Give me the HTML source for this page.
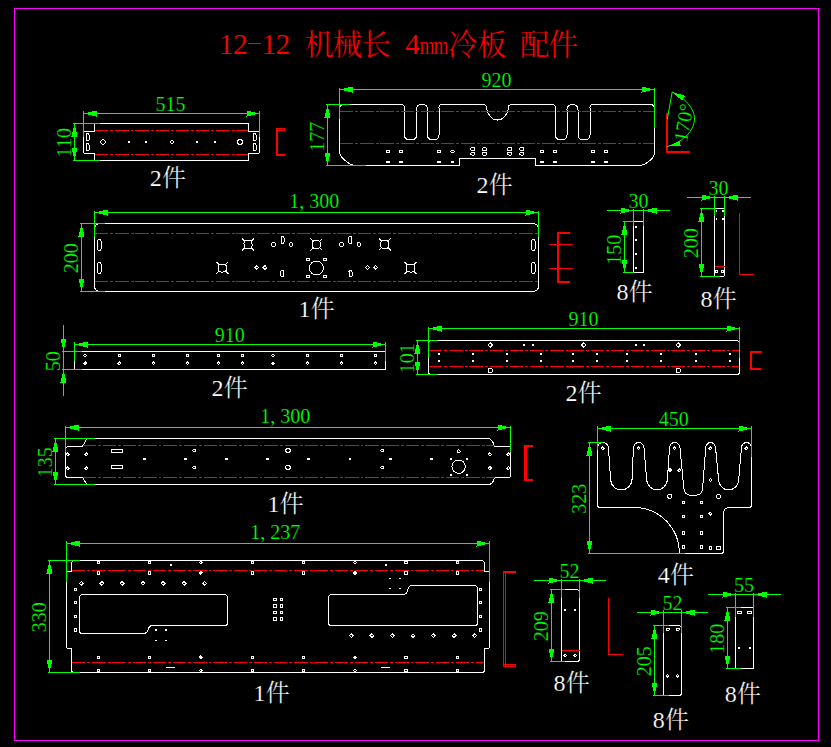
<!DOCTYPE html>
<html lang="zh"><head><meta charset="utf-8"><title>12-12 机械长 4mm冷板 配件</title>
<style>
html,body{margin:0;padding:0;background:#000;}
body{width:831px;height:747px;overflow:hidden;}
svg{display:block;font-family:"Liberation Serif","Noto Serif CJK SC",serif;}
svg text{stroke:#000;stroke-width:0.2px;}
svg line,svg path,svg rect,svg circle,svg polygon{shape-rendering:crispEdges;}
</style></head><body>
<svg width="831" height="747" viewBox="0 0 831 747" role="img" aria-label="12-12 机械长 4mm冷板 配件">
<desc>CAD sheet: 12-12 机械长 4mm冷板 配件. Parts: 515x110 2件, 920x177 2件 (170°), 1,300x200 1件, 30x150 8件, 30x200 8件, 910x50 2件, 910x101 2件, 1,300x135 1件, 450x323 4件, 1,237x330 1件, 52x209 8件, 52x205 8件, 55x180 8件</desc>
<rect x="0" y="0" width="831" height="747" fill="#000"/>
<rect x="14.5" y="8.5" width="804" height="732" stroke="#ff00ff" stroke-width="1" fill="none"/>
<text x="226.2" y="53.7" fill="#ff0000" font-size="29.6" text-anchor="middle">1</text>
<text x="240.4" y="53.7" fill="#ff0000" font-size="29.6" text-anchor="middle">2</text>
<text x="268.8" y="53.7" fill="#ff0000" font-size="29.6" text-anchor="middle">1</text>
<text x="283" y="53.7" fill="#ff0000" font-size="29.6" text-anchor="middle">2</text>
<line x1="247.7" y1="43.5" x2="261" y2="43.5" stroke="#ff0000" stroke-width="1"/>
<text x="304.43" y="54.93" fill="#ff0000" font-size="29.54">机</text>
<text x="332.83" y="54.93" fill="#ff0000" font-size="29.54">械</text>
<text x="361.23" y="54.93" fill="#ff0000" font-size="29.54">长</text>
<text x="412.5" y="53.7" fill="#ff0000" font-size="29.6" text-anchor="middle">4</text>
<text transform="translate(426.9 53.7) scale(0.74 1)" fill="#ff0000" font-size="26" text-anchor="middle">m</text>
<text transform="translate(441.1 53.7) scale(0.74 1)" fill="#ff0000" font-size="26" text-anchor="middle">m</text>
<text x="447.93" y="54.93" fill="#ff0000" font-size="29.54">冷</text>
<text x="477.03" y="54.93" fill="#ff0000" font-size="29.54">板</text>
<text x="520.03" y="54.93" fill="#ff0000" font-size="29.54">配</text>
<text x="548.43" y="54.93" fill="#ff0000" font-size="29.54">件</text>
<path d="M94.5 123.5H248.5V131.5H259.5V151.5Q259.5 153.5 257.5 153.5H248.5V160.5H94.5V153.5H85.5Q83.5 153.5 83.5 151.5V131.5H94.5Z" stroke="#ffffff" stroke-width="1" fill="none"/>
<line x1="95" y1="130.5" x2="248" y2="130.5" stroke="#ff0000" stroke-width="1" stroke-dasharray="13.4 2 2.9 1.9"/>
<line x1="95" y1="154.5" x2="248" y2="154.5" stroke="#ff0000" stroke-width="1" stroke-dasharray="13.4 2 2.9 1.9"/>
<rect x="86.5" y="133.5" width="2.5" height="7" rx="1" stroke="#ffffff" stroke-width="1" fill="none"/>
<rect x="86.5" y="143.5" width="2.5" height="7" rx="1" stroke="#ffffff" stroke-width="1" fill="none"/>
<rect x="253.5" y="133.5" width="2.5" height="7" rx="1" stroke="#ffffff" stroke-width="1" fill="none"/>
<rect x="253.5" y="143.5" width="2.5" height="7" rx="1" stroke="#ffffff" stroke-width="1" fill="none"/>
<circle cx="103" cy="142" r="2.2" stroke="#ffffff" stroke-width="1" fill="none"/>
<rect x="128" y="141" width="2" height="2" fill="#ffffff"/>
<rect x="145" y="141" width="2" height="2" fill="#ffffff"/>
<path d="M169.8 142L171.8 140L173.8 142L171.8 144Z" stroke="#ffffff" stroke-width="1" fill="none"/>
<rect x="196" y="141" width="2" height="2" fill="#ffffff"/>
<rect x="213.5" y="141" width="2" height="2" fill="#ffffff"/>
<circle cx="240" cy="142" r="2.4" stroke="#ffffff" stroke-width="1" fill="none"/>
<line x1="83.5" y1="113.5" x2="259.5" y2="113.5" stroke="#00ff00" stroke-width="1"/>
<polygon points="83.5,113.5 96.5,110.5 96.5,116.5" fill="#00ff00"/>
<polygon points="259.5,113.5 246.5,116.5 246.5,110.5" fill="#00ff00"/>
<line x1="83.5" y1="111" x2="83.5" y2="137" stroke="#00ff00" stroke-width="1"/>
<line x1="259.5" y1="111" x2="259.5" y2="137" stroke="#00ff00" stroke-width="1"/>
<text x="170.6" y="110.8" fill="#00ff00" font-size="20" text-anchor="middle">515</text>
<line x1="74.5" y1="123.5" x2="74.5" y2="160.5" stroke="#00ff00" stroke-width="1"/>
<polygon points="74.5,123.5 77.5,136.5 71.5,136.5" fill="#00ff00"/>
<polygon points="74.5,160.5 71.5,147.5 77.5,147.5" fill="#00ff00"/>
<line x1="73" y1="123.5" x2="100" y2="123.5" stroke="#00ff00" stroke-width="1"/>
<line x1="73" y1="160.5" x2="100" y2="160.5" stroke="#00ff00" stroke-width="1"/>
<text x="70.7" y="142.7" fill="#00ff00" font-size="20" text-anchor="middle" transform="rotate(-90 70.7 142.7)">110</text>
<rect x="276" y="128" width="2" height="28" stroke="#ff0000" stroke-width="0" fill="#ff0000"/>
<rect x="276" y="154" width="9" height="2" stroke="#ff0000" stroke-width="0" fill="#ff0000"/>
<rect x="276.5" y="128.5" width="8" height="2" stroke="#ff0000" stroke-width="1" fill="none"/>
<text x="155.8" y="186.1" fill="#ffffff" font-size="24" text-anchor="middle">2</text>
<text x="162.04" y="186.09" fill="#ffffff" font-size="23.92">件</text>
<path d="M343.5 104.5H401.5Q404.5 104.5 404.5 107.5V135.0Q404.5 139.5 409.0 139.5H412.0Q416.5 139.5 416.5 135.0V109.5Q416.5 104.5 422 104.5Q427.5 104.5 427.5 109.5V135.0Q427.5 139.5 432.0 139.5H434.5Q439 139.5 439 135.0V107.5Q439 104.5 442 104.5H483.5Q486.5 104.5 486.5 107.5C487 113 491 120 497.5 120C504 120 508 113 508.5 107.5Q508.5 104.5 511.5 104.5H552.5Q555.5 104.5 555.5 107.5V135.0Q555.5 139.5 560.0 139.5H562.5Q567 139.5 567 135.0V109.5Q567 104.5 572.5 104.5Q578 104.5 578 109.5V135.0Q578 139.5 582.5 139.5H585.5Q590 139.5 590 135.0V107.5Q590 104.5 593 104.5H650.5Q654.5 104.5 654.5 108.5V152Q654.5 158 648 162Q644 165.5 640 165.5H535.5V158.5H459.5V165.5H355Q351 165.5 347 162Q339.5 157 339.5 151V108.5Q339.5 104.5 343.5 104.5Z" stroke="#ffffff" stroke-width="1" fill="none"/>
<line x1="340" y1="111.5" x2="654" y2="111.5" stroke="#ff0000" stroke-width="1" stroke-dasharray="13.4 2 2.9 1.9"/>
<line x1="340" y1="143.5" x2="654" y2="143.5" stroke="#ff0000" stroke-width="1" stroke-dasharray="13.4 2 2.9 1.9"/>
<rect x="386.3" y="150.3" width="3.4" height="2.4" rx="1.2" stroke="#ffffff" stroke-width="1" fill="none"/>
<rect x="386.2" y="160.5" width="3.8" height="2" stroke="#ffffff" stroke-width="0" fill="#ffffff"/>
<rect x="399.3" y="150.3" width="3.4" height="2.4" rx="1.2" stroke="#ffffff" stroke-width="1" fill="none"/>
<rect x="399.2" y="160.5" width="3.8" height="2" stroke="#ffffff" stroke-width="0" fill="#ffffff"/>
<rect x="437.5" y="150.3" width="3.4" height="2.4" rx="1.2" stroke="#ffffff" stroke-width="1" fill="none"/>
<rect x="437.4" y="160.5" width="3.8" height="2" stroke="#ffffff" stroke-width="0" fill="#ffffff"/>
<rect x="450.7" y="150.3" width="3.4" height="2.4" rx="1.2" stroke="#ffffff" stroke-width="1" fill="none"/>
<rect x="450.6" y="160.5" width="3.8" height="2" stroke="#ffffff" stroke-width="0" fill="#ffffff"/>
<rect x="540.1" y="150.3" width="3.4" height="2.4" rx="1.2" stroke="#ffffff" stroke-width="1" fill="none"/>
<rect x="540" y="160.5" width="3.8" height="2" stroke="#ffffff" stroke-width="0" fill="#ffffff"/>
<rect x="553.3" y="150.3" width="3.4" height="2.4" rx="1.2" stroke="#ffffff" stroke-width="1" fill="none"/>
<rect x="553.2" y="160.5" width="3.8" height="2" stroke="#ffffff" stroke-width="0" fill="#ffffff"/>
<rect x="591.2" y="150.3" width="3.4" height="2.4" rx="1.2" stroke="#ffffff" stroke-width="1" fill="none"/>
<rect x="591.1" y="160.5" width="3.8" height="2" stroke="#ffffff" stroke-width="0" fill="#ffffff"/>
<rect x="604.3" y="150.3" width="3.4" height="2.4" rx="1.2" stroke="#ffffff" stroke-width="1" fill="none"/>
<rect x="604.2" y="160.5" width="3.8" height="2" stroke="#ffffff" stroke-width="0" fill="#ffffff"/>
<rect x="470.9" y="147.8" width="4" height="2.6" rx="0.8" stroke="#ffffff" stroke-width="1" fill="none"/>
<rect x="470.9" y="152.4" width="4" height="2.6" rx="0.8" stroke="#ffffff" stroke-width="1" fill="none"/>
<rect x="482.5" y="147.8" width="4" height="2.6" rx="0.8" stroke="#ffffff" stroke-width="1" fill="none"/>
<rect x="482.5" y="152.4" width="4" height="2.6" rx="0.8" stroke="#ffffff" stroke-width="1" fill="none"/>
<rect x="507.7" y="147.8" width="4" height="2.6" rx="0.8" stroke="#ffffff" stroke-width="1" fill="none"/>
<rect x="507.7" y="152.4" width="4" height="2.6" rx="0.8" stroke="#ffffff" stroke-width="1" fill="none"/>
<rect x="519.8" y="147.8" width="4" height="2.6" rx="0.8" stroke="#ffffff" stroke-width="1" fill="none"/>
<rect x="519.8" y="152.4" width="4" height="2.6" rx="0.8" stroke="#ffffff" stroke-width="1" fill="none"/>
<line x1="339.5" y1="89.5" x2="654.5" y2="89.5" stroke="#00ff00" stroke-width="1"/>
<polygon points="339.5,89.5 352.5,86.5 352.5,92.5" fill="#00ff00"/>
<polygon points="654.5,89.5 641.5,92.5 641.5,86.5" fill="#00ff00"/>
<line x1="339.5" y1="87.5" x2="339.5" y2="119" stroke="#00ff00" stroke-width="1"/>
<line x1="654.5" y1="87.5" x2="654.5" y2="128" stroke="#00ff00" stroke-width="1"/>
<text x="496.5" y="86.8" fill="#00ff00" font-size="20" text-anchor="middle">920</text>
<line x1="327.5" y1="104.5" x2="327.5" y2="165.5" stroke="#00ff00" stroke-width="1"/>
<polygon points="327.5,104.5 330.5,117.5 324.5,117.5" fill="#00ff00"/>
<polygon points="327.5,165.5 324.5,152.5 330.5,152.5" fill="#00ff00"/>
<line x1="326" y1="104.5" x2="350" y2="104.5" stroke="#00ff00" stroke-width="1"/>
<line x1="326" y1="165.5" x2="366" y2="165.5" stroke="#00ff00" stroke-width="1"/>
<text x="323.7" y="136.7" fill="#00ff00" font-size="20" text-anchor="middle" transform="rotate(-90 323.7 136.7)">177</text>
<rect x="666" y="113" width="2" height="40" stroke="#ff0000" stroke-width="0" fill="#ff0000"/>
<rect x="666" y="151" width="24" height="2" stroke="#ff0000" stroke-width="0" fill="#ff0000"/>
<path d="M667.3 119.2L672.2 92" stroke="#00ff00" stroke-width="1" fill="none" style="shape-rendering:auto"/>
<path d="M672.2 92C689 100 695 112 694.5 119C694 130 685 141 667.5 146.5" stroke="#00ff00" stroke-width="1" fill="none" style="shape-rendering:auto"/>
<polygon points="672.2,92 685,95.7 682.2,100.8" fill="#00ff00"/>
<polygon points="667.5,146.5 679.4,140.6 680.8,146.3" fill="#00ff00"/>
<text x="690.3" y="123.8" fill="#00ff00" font-size="20" text-anchor="middle" transform="rotate(-80 690.3 123.8)">170°</text>
<text x="482.6" y="192.9" fill="#ffffff" font-size="24" text-anchor="middle">2</text>
<text x="488.84" y="192.89" fill="#ffffff" font-size="23.92">件</text>
<path d="M100.5 223.5H532.5Q538.5 223.5 538.5 229.5V285.5Q538.5 291.5 532.5 291.5H100.5Q94.5 291.5 94.5 285.5V229.5Q94.5 223.5 100.5 223.5Z" stroke="#ffffff" stroke-width="1" fill="none"/>
<line x1="95" y1="233.5" x2="538" y2="233.5" stroke="#ff0000" stroke-width="1" stroke-dasharray="13.4 2 2.9 1.9"/>
<line x1="95" y1="281.5" x2="538" y2="281.5" stroke="#ff0000" stroke-width="1" stroke-dasharray="13.4 2 2.9 1.9"/>
<rect x="97.5" y="239.5" width="3.5" height="11" rx="1.7" stroke="#ffffff" stroke-width="1" fill="none"/>
<rect x="97.5" y="262.5" width="3.5" height="11" rx="1.7" stroke="#ffffff" stroke-width="1" fill="none"/>
<rect x="531.5" y="239.5" width="3.5" height="11" rx="1.7" stroke="#ffffff" stroke-width="1" fill="none"/>
<rect x="531.5" y="262.5" width="3.5" height="11" rx="1.7" stroke="#ffffff" stroke-width="1" fill="none"/>
<rect x="244" y="240.5" width="8" height="8" rx="3" stroke="#ffffff" stroke-width="1" fill="none"/>
<line x1="245" y1="241.5" x2="242" y2="238.5" stroke="#ffffff" stroke-width="1"/>
<line x1="245" y1="247.5" x2="242" y2="250.5" stroke="#ffffff" stroke-width="1"/>
<line x1="251" y1="241.5" x2="254" y2="238.5" stroke="#ffffff" stroke-width="1"/>
<line x1="251" y1="247.5" x2="254" y2="250.5" stroke="#ffffff" stroke-width="1"/>
<rect x="312.4" y="240.5" width="8" height="8" rx="3" stroke="#ffffff" stroke-width="1" fill="none"/>
<line x1="313.4" y1="241.5" x2="310.4" y2="238.5" stroke="#ffffff" stroke-width="1"/>
<line x1="313.4" y1="247.5" x2="310.4" y2="250.5" stroke="#ffffff" stroke-width="1"/>
<line x1="319.4" y1="241.5" x2="322.4" y2="238.5" stroke="#ffffff" stroke-width="1"/>
<line x1="319.4" y1="247.5" x2="322.4" y2="250.5" stroke="#ffffff" stroke-width="1"/>
<rect x="380.8" y="240.5" width="8" height="8" rx="3" stroke="#ffffff" stroke-width="1" fill="none"/>
<line x1="381.8" y1="241.5" x2="378.8" y2="238.5" stroke="#ffffff" stroke-width="1"/>
<line x1="381.8" y1="247.5" x2="378.8" y2="250.5" stroke="#ffffff" stroke-width="1"/>
<line x1="387.8" y1="241.5" x2="390.8" y2="238.5" stroke="#ffffff" stroke-width="1"/>
<line x1="387.8" y1="247.5" x2="390.8" y2="250.5" stroke="#ffffff" stroke-width="1"/>
<rect x="218.3" y="264" width="8" height="8" rx="3" stroke="#ffffff" stroke-width="1" fill="none"/>
<line x1="219.3" y1="265" x2="216.3" y2="262" stroke="#ffffff" stroke-width="1"/>
<line x1="219.3" y1="271" x2="216.3" y2="274" stroke="#ffffff" stroke-width="1"/>
<line x1="225.3" y1="265" x2="228.3" y2="262" stroke="#ffffff" stroke-width="1"/>
<line x1="225.3" y1="271" x2="228.3" y2="274" stroke="#ffffff" stroke-width="1"/>
<rect x="406.5" y="264" width="8" height="8" rx="3" stroke="#ffffff" stroke-width="1" fill="none"/>
<line x1="407.5" y1="265" x2="404.5" y2="262" stroke="#ffffff" stroke-width="1"/>
<line x1="407.5" y1="271" x2="404.5" y2="274" stroke="#ffffff" stroke-width="1"/>
<line x1="413.5" y1="265" x2="416.5" y2="262" stroke="#ffffff" stroke-width="1"/>
<line x1="413.5" y1="271" x2="416.5" y2="274" stroke="#ffffff" stroke-width="1"/>
<circle cx="316.4" cy="268" r="7" stroke="#ffffff" stroke-width="1" fill="none"/>
<rect x="306.7" y="258.3" width="2.4" height="2.4" stroke="#ffffff" stroke-width="1" fill="none"/>
<rect x="306.7" y="275.3" width="2.4" height="2.4" stroke="#ffffff" stroke-width="1" fill="none"/>
<rect x="323.7" y="258.3" width="2.4" height="2.4" stroke="#ffffff" stroke-width="1" fill="none"/>
<rect x="323.7" y="275.3" width="2.4" height="2.4" stroke="#ffffff" stroke-width="1" fill="none"/>
<rect x="271.9" y="242.8" width="3.4" height="3.4" rx="1" stroke="#ffffff" stroke-width="1" fill="none"/>
<rect x="289.3" y="242.8" width="3.4" height="3.4" rx="1" stroke="#ffffff" stroke-width="1" fill="none"/>
<rect x="339.8" y="242.8" width="3.4" height="3.4" rx="1" stroke="#ffffff" stroke-width="1" fill="none"/>
<rect x="357.1" y="242.8" width="3.4" height="3.4" rx="1" stroke="#ffffff" stroke-width="1" fill="none"/>
<rect x="281.1" y="236.5" width="3" height="7" rx="1.5" stroke="#ffffff" stroke-width="1" fill="none"/>
<rect x="348.7" y="236.5" width="3" height="7" rx="1.5" stroke="#ffffff" stroke-width="1" fill="none"/>
<path d="M255.1 267.5L256.9 265.7L258.7 267.5L256.9 269.3Z" stroke="#ffffff" stroke-width="1" fill="none"/>
<path d="M263.2 267.5L265 265.7L266.8 267.5L265 269.3Z" stroke="#ffffff" stroke-width="1" fill="none"/>
<path d="M365.7 267.5L367.5 265.7L369.3 267.5L367.5 269.3Z" stroke="#ffffff" stroke-width="1" fill="none"/>
<path d="M373.8 267.5L375.6 265.7L377.4 267.5L375.6 269.3Z" stroke="#ffffff" stroke-width="1" fill="none"/>
<rect x="280.9" y="270" width="3" height="7" rx="1.5" stroke="#ffffff" stroke-width="1" fill="none"/>
<rect x="349" y="270" width="3" height="7" rx="1.5" stroke="#ffffff" stroke-width="1" fill="none"/>
<line x1="94.5" y1="212.5" x2="538.5" y2="212.5" stroke="#00ff00" stroke-width="1"/>
<polygon points="94.5,212.5 107.5,209.5 107.5,215.5" fill="#00ff00"/>
<polygon points="538.5,212.5 525.5,215.5 525.5,209.5" fill="#00ff00"/>
<line x1="94.5" y1="210.5" x2="94.5" y2="237" stroke="#00ff00" stroke-width="1"/>
<line x1="538.5" y1="210.5" x2="538.5" y2="237" stroke="#00ff00" stroke-width="1"/>
<text x="316.5" y="209.8" fill="#00ff00" font-size="20" text-anchor="middle"></text>
<text x="289.3" y="207.8" fill="#00ff00" font-size="20">1,<tspan dx="5">300</tspan></text>
<line x1="81.5" y1="223.5" x2="81.5" y2="291.5" stroke="#00ff00" stroke-width="1"/>
<polygon points="81.5,223.5 84.5,236.5 78.5,236.5" fill="#00ff00"/>
<polygon points="81.5,291.5 78.5,278.5 84.5,278.5" fill="#00ff00"/>
<line x1="80" y1="223.5" x2="105" y2="223.5" stroke="#00ff00" stroke-width="1"/>
<line x1="80" y1="291.5" x2="105" y2="291.5" stroke="#00ff00" stroke-width="1"/>
<text x="77.7" y="258.2" fill="#00ff00" font-size="20" text-anchor="middle" transform="rotate(-90 77.7 258.2)">200</text>
<rect x="557" y="232" width="2" height="51" stroke="#ff0000" stroke-width="0" fill="#ff0000"/>
<rect x="557" y="232" width="13" height="2" stroke="#ff0000" stroke-width="0" fill="#ff0000"/>
<rect x="557" y="281" width="13" height="2" stroke="#ff0000" stroke-width="0" fill="#ff0000"/>
<line x1="549" y1="244.5" x2="573" y2="244.5" stroke="#ff0000" stroke-width="1"/>
<line x1="549" y1="268.5" x2="573" y2="268.5" stroke="#ff0000" stroke-width="1"/>
<text x="304.4" y="316.9" fill="#ffffff" font-size="24" text-anchor="middle">1</text>
<text x="310.64" y="316.89" fill="#ffffff" font-size="23.92">件</text>
<rect x="633.5" y="221.5" width="10" height="51" stroke="#ffffff" stroke-width="1" fill="none"/>
<path d="M635.1 227L636 226.1L636.9 227L636 227.9Z" stroke="#ffffff" stroke-width="1" fill="none"/>
<path d="M635.1 240.3L636 239.4L636.9 240.3L636 241.2Z" stroke="#ffffff" stroke-width="1" fill="none"/>
<path d="M635.1 254.3L636 253.4L636.9 254.3L636 255.2Z" stroke="#ffffff" stroke-width="1" fill="none"/>
<path d="M635.1 268L636 267.1L636.9 268L636 268.9Z" stroke="#ffffff" stroke-width="1" fill="none"/>
<line x1="607" y1="210.5" x2="670" y2="210.5" stroke="#00ff00" stroke-width="1"/>
<polygon points="633.5,210.5 620.5,213.5 620.5,207.5" fill="#00ff00"/>
<polygon points="643.5,210.5 656.5,207.5 656.5,213.5" fill="#00ff00"/>
<line x1="633.5" y1="208.5" x2="633.5" y2="226" stroke="#00ff00" stroke-width="1"/>
<line x1="643.5" y1="208.5" x2="643.5" y2="226" stroke="#00ff00" stroke-width="1"/>
<text x="638.5" y="207.8" fill="#00ff00" font-size="20" text-anchor="middle">30</text>
<line x1="624.5" y1="221.5" x2="624.5" y2="272.5" stroke="#00ff00" stroke-width="1"/>
<polygon points="624.5,221.5 627.5,234.5 621.5,234.5" fill="#00ff00"/>
<polygon points="624.5,272.5 621.5,259.5 627.5,259.5" fill="#00ff00"/>
<line x1="623" y1="221.5" x2="633.5" y2="221.5" stroke="#00ff00" stroke-width="1"/>
<line x1="623" y1="272.5" x2="633.5" y2="272.5" stroke="#00ff00" stroke-width="1"/>
<text x="620.7" y="249.7" fill="#00ff00" font-size="20" text-anchor="middle" transform="rotate(-90 620.7 249.7)">150</text>
<text x="622.6" y="299.9" fill="#ffffff" font-size="24" text-anchor="middle">8</text>
<text x="628.84" y="299.89" fill="#ffffff" font-size="23.92">件</text>
<rect x="714.5" y="208.5" width="10" height="68" rx="1.5" stroke="#ffffff" stroke-width="1" fill="none"/>
<line x1="714.5" y1="266.5" x2="724.5" y2="266.5" stroke="#ff0000" stroke-width="1"/>
<rect x="715.6" y="270.5" width="2" height="2" stroke="#ffffff" stroke-width="1" fill="none"/>
<rect x="721.6" y="270.5" width="2" height="2" stroke="#ffffff" stroke-width="1" fill="none"/>
<rect x="715.7" y="210" width="1.6" height="1.6" fill="#ffffff"/>
<rect x="722" y="210" width="1.6" height="1.6" fill="#ffffff"/>
<rect x="715.7" y="218.4" width="1.6" height="1.6" fill="#ffffff"/>
<rect x="722" y="218.4" width="1.6" height="1.6" fill="#ffffff"/>
<line x1="687" y1="197.5" x2="751" y2="197.5" stroke="#00ff00" stroke-width="1"/>
<polygon points="714.5,197.5 701.5,200.5 701.5,194.5" fill="#00ff00"/>
<polygon points="724.5,197.5 737.5,194.5 737.5,200.5" fill="#00ff00"/>
<line x1="714.5" y1="196" x2="714.5" y2="216" stroke="#00ff00" stroke-width="1"/>
<line x1="724.5" y1="196" x2="724.5" y2="216" stroke="#00ff00" stroke-width="1"/>
<text x="718.5" y="194.8" fill="#00ff00" font-size="20" text-anchor="middle">30</text>
<line x1="701.5" y1="208.5" x2="701.5" y2="276.5" stroke="#00ff00" stroke-width="1"/>
<polygon points="701.5,208.5 704.5,221.5 698.5,221.5" fill="#00ff00"/>
<polygon points="701.5,276.5 698.5,263.5 704.5,263.5" fill="#00ff00"/>
<line x1="700" y1="208.5" x2="714.5" y2="208.5" stroke="#00ff00" stroke-width="1"/>
<line x1="700" y1="276.5" x2="720" y2="276.5" stroke="#00ff00" stroke-width="1"/>
<text x="697.7" y="243.2" fill="#00ff00" font-size="20" text-anchor="middle" transform="rotate(-90 697.7 243.2)">200</text>
<path d="M739.5 213V274.5H754" stroke="#ff0000" stroke-width="1" fill="none"/>
<text x="706.5" y="306.8" fill="#ffffff" font-size="24" text-anchor="middle">8</text>
<text x="712.74" y="306.79" fill="#ffffff" font-size="23.92">件</text>
<path d="M76.5 351.5H385.5V369.5H76.5Q74.5 369.5 74.5 367.5V353.5Q74.5 351.5 76.5 351.5Z" stroke="#ffffff" stroke-width="1" fill="none"/>
<path d="M83.7 355.5L85.1 354.1L86.5 355.5L85.1 356.9Z" stroke="#ffffff" stroke-width="1" fill="none"/>
<path d="M83.7 363.2L85.1 361.8L86.5 363.2L85.1 364.6Z" stroke="#ffffff" stroke-width="1" fill="none"/>
<rect x="118" y="354.3" width="2.4" height="2.4" stroke="#ffffff" stroke-width="1" fill="none"/>
<path d="M117.8 363.2L119.2 361.8L120.6 363.2L119.2 364.6Z" stroke="#ffffff" stroke-width="1" fill="none"/>
<rect x="152.1" y="354.3" width="2.4" height="2.4" stroke="#ffffff" stroke-width="1" fill="none"/>
<path d="M151.9 363.2L153.3 361.8L154.7 363.2L153.3 364.6Z" stroke="#ffffff" stroke-width="1" fill="none"/>
<rect x="186.2" y="354.3" width="2.4" height="2.4" stroke="#ffffff" stroke-width="1" fill="none"/>
<path d="M186 363.2L187.4 361.8L188.8 363.2L187.4 364.6Z" stroke="#ffffff" stroke-width="1" fill="none"/>
<rect x="217.3" y="354.3" width="2.4" height="2.4" stroke="#ffffff" stroke-width="1" fill="none"/>
<path d="M217.1 363.2L218.5 361.8L219.9 363.2L218.5 364.6Z" stroke="#ffffff" stroke-width="1" fill="none"/>
<rect x="241.3" y="354.3" width="2.4" height="2.4" stroke="#ffffff" stroke-width="1" fill="none"/>
<path d="M241.1 363.2L242.5 361.8L243.9 363.2L242.5 364.6Z" stroke="#ffffff" stroke-width="1" fill="none"/>
<path d="M271.6 355.5L273 354.1L274.4 355.5L273 356.9Z" stroke="#ffffff" stroke-width="1" fill="none"/>
<path d="M271.6 363.2L273 361.8L274.4 363.2L273 364.6Z" stroke="#ffffff" stroke-width="1" fill="none"/>
<rect x="306.2" y="354.3" width="2.4" height="2.4" stroke="#ffffff" stroke-width="1" fill="none"/>
<path d="M306 363.2L307.4 361.8L308.8 363.2L307.4 364.6Z" stroke="#ffffff" stroke-width="1" fill="none"/>
<rect x="340.3" y="354.3" width="2.4" height="2.4" stroke="#ffffff" stroke-width="1" fill="none"/>
<path d="M340.1 363.2L341.5 361.8L342.9 363.2L341.5 364.6Z" stroke="#ffffff" stroke-width="1" fill="none"/>
<rect x="374.4" y="354.3" width="2.4" height="2.4" stroke="#ffffff" stroke-width="1" fill="none"/>
<path d="M374.2 363.2L375.6 361.8L377 363.2L375.6 364.6Z" stroke="#ffffff" stroke-width="1" fill="none"/>
<line x1="74.5" y1="344.5" x2="385.5" y2="344.5" stroke="#00ff00" stroke-width="1"/>
<polygon points="74.5,344.5 87.5,341.5 87.5,347.5" fill="#00ff00"/>
<polygon points="385.5,344.5 372.5,347.5 372.5,341.5" fill="#00ff00"/>
<line x1="74.5" y1="342" x2="74.5" y2="360.5" stroke="#00ff00" stroke-width="1"/>
<line x1="385.5" y1="342" x2="385.5" y2="360.5" stroke="#00ff00" stroke-width="1"/>
<text x="229.7" y="341.8" fill="#00ff00" font-size="20" text-anchor="middle">910</text>
<line x1="63.5" y1="325" x2="63.5" y2="396" stroke="#00ff00" stroke-width="1"/>
<polygon points="63.5,351.5 60.5,338.5 66.5,338.5" fill="#00ff00"/>
<polygon points="63.5,369.5 66.5,382.5 60.5,382.5" fill="#00ff00"/>
<line x1="62" y1="351.5" x2="82" y2="351.5" stroke="#00ff00" stroke-width="1"/>
<line x1="62" y1="369.5" x2="82" y2="369.5" stroke="#00ff00" stroke-width="1"/>
<text x="59.7" y="361.2" fill="#00ff00" font-size="20" text-anchor="middle" transform="rotate(-90 59.7 361.2)">50</text>
<text x="217.6" y="396.1" fill="#ffffff" font-size="24" text-anchor="middle">2</text>
<text x="223.84" y="396.09" fill="#ffffff" font-size="23.92">件</text>
<path d="M431.5 340.5H736.5Q739.5 340.5 739.5 343.5V371.5Q739.5 374.5 736.5 374.5H431.5Q428.5 374.5 428.5 371.5V343.5Q428.5 340.5 431.5 340.5Z" stroke="#ffffff" stroke-width="1" fill="none"/>
<line x1="429" y1="350.5" x2="739" y2="350.5" stroke="#ff0000" stroke-width="1" stroke-dasharray="13.4 2 2.9 1.9"/>
<line x1="429" y1="366.5" x2="739" y2="366.5" stroke="#ff0000" stroke-width="1" stroke-dasharray="13.4 2 2.9 1.9"/>
<path d="M487.9 345L490.3 342.6L492.7 345L490.3 347.4Z" stroke="#ffffff" stroke-width="1" fill="none"/>
<path d="M581.4 345L583.8 342.6L586.2 345L583.8 347.4Z" stroke="#ffffff" stroke-width="1" fill="none"/>
<path d="M675.8 345L678.2 342.6L680.6 345L678.2 347.4Z" stroke="#ffffff" stroke-width="1" fill="none"/>
<path d="M488.3 372.5V369.5Q488.3 368.5 490.3 368.5Q492.8 368.5 492.8 370.5Q492.8 372.5 490.3 372.5Z" stroke="#ffffff" stroke-width="1" fill="none"/>
<path d="M676.2 372.5V369.5Q676.2 368.5 678.2 368.5Q680.7 368.5 680.7 370.5Q680.7 372.5 678.2 372.5Z" stroke="#ffffff" stroke-width="1" fill="none"/>
<rect x="522.9" y="344" width="2" height="2" fill="#ffffff"/>
<rect x="532" y="344" width="2" height="2" fill="#ffffff"/>
<rect x="634.7" y="344" width="2" height="2" fill="#ffffff"/>
<rect x="643" y="344" width="2" height="2" fill="#ffffff"/>
<rect x="437.8" y="352.8" width="2" height="2" fill="#ffffff"/>
<rect x="437.8" y="360" width="2" height="2" fill="#ffffff"/>
<rect x="472.4" y="352.8" width="2" height="2" fill="#ffffff"/>
<rect x="472.4" y="360" width="2" height="2" fill="#ffffff"/>
<rect x="506" y="352.8" width="2" height="2" fill="#ffffff"/>
<rect x="506" y="360" width="2" height="2" fill="#ffffff"/>
<rect x="540.1" y="352.8" width="2" height="2" fill="#ffffff"/>
<rect x="540.1" y="360" width="2" height="2" fill="#ffffff"/>
<rect x="571.5" y="352.8" width="2" height="2" fill="#ffffff"/>
<rect x="571.5" y="360" width="2" height="2" fill="#ffffff"/>
<rect x="595.6" y="352.8" width="2" height="2" fill="#ffffff"/>
<rect x="595.6" y="360" width="2" height="2" fill="#ffffff"/>
<rect x="625.9" y="352.8" width="2" height="2" fill="#ffffff"/>
<rect x="625.9" y="360" width="2" height="2" fill="#ffffff"/>
<rect x="660" y="352.8" width="2" height="2" fill="#ffffff"/>
<rect x="660" y="360" width="2" height="2" fill="#ffffff"/>
<rect x="694.6" y="352.8" width="2" height="2" fill="#ffffff"/>
<rect x="694.6" y="360" width="2" height="2" fill="#ffffff"/>
<rect x="728.7" y="352.8" width="2" height="2" fill="#ffffff"/>
<rect x="728.7" y="360" width="2" height="2" fill="#ffffff"/>
<line x1="428.5" y1="328.5" x2="739.5" y2="328.5" stroke="#00ff00" stroke-width="1"/>
<polygon points="428.5,328.5 441.5,325.5 441.5,331.5" fill="#00ff00"/>
<polygon points="739.5,328.5 726.5,331.5 726.5,325.5" fill="#00ff00"/>
<line x1="428.5" y1="326.5" x2="428.5" y2="358" stroke="#00ff00" stroke-width="1"/>
<line x1="739.5" y1="326.5" x2="739.5" y2="358" stroke="#00ff00" stroke-width="1"/>
<text x="583.4" y="325.8" fill="#00ff00" font-size="20" text-anchor="middle">910</text>
<line x1="417.5" y1="340.5" x2="417.5" y2="374.5" stroke="#00ff00" stroke-width="1"/>
<polygon points="417.5,340.5 420.5,353.5 414.5,353.5" fill="#00ff00"/>
<polygon points="417.5,374.5 414.5,361.5 420.5,361.5" fill="#00ff00"/>
<line x1="416" y1="340.5" x2="438" y2="340.5" stroke="#00ff00" stroke-width="1"/>
<line x1="416" y1="374.5" x2="438" y2="374.5" stroke="#00ff00" stroke-width="1"/>
<text x="413.7" y="358.2" fill="#00ff00" font-size="20" text-anchor="middle" transform="rotate(-90 413.7 358.2)">101</text>
<rect x="750" y="351" width="2" height="19" stroke="#ff0000" stroke-width="0" fill="#ff0000"/>
<rect x="750" y="351" width="12" height="2" stroke="#ff0000" stroke-width="0" fill="#ff0000"/>
<rect x="750" y="368" width="11" height="2" stroke="#ff0000" stroke-width="0" fill="#ff0000"/>
<text x="571.5" y="401.1" fill="#ffffff" font-size="24" text-anchor="middle">2</text>
<text x="577.74" y="401.09" fill="#ffffff" font-size="23.92">件</text>
<path d="M88 438.5H488C491.5 438.5 493 441 494.5 446.5H508.5Q510.5 446.5 510.5 448.5V475.5Q510.5 477.5 508.5 477.5H494.5C493 483 491.5 484.5 488 484.5H88Q86.8 484.5 86.2 483.3L82.5 477.5H68.5Q65.5 477.5 65.5 474.5V449.5Q65.5 446.5 68.5 446.5H82.5L86.2 439.7Q86.8 438.5 88 438.5Z" stroke="#ffffff" stroke-width="1" fill="none"/>
<line x1="82.5" y1="445.5" x2="494.5" y2="445.5" stroke="#ff0000" stroke-width="1" stroke-dasharray="13.4 2 2.9 1.9"/>
<line x1="82.5" y1="477.5" x2="494.5" y2="477.5" stroke="#ff0000" stroke-width="1" stroke-dasharray="13.4 2 2.9 1.9"/>
<path d="M66.1 454.3L67.7 452.7L69.3 454.3L67.7 455.9Z" stroke="#ffffff" stroke-width="1" fill="none"/>
<path d="M66.1 468.2L67.7 466.6L69.3 468.2L67.7 469.8Z" stroke="#ffffff" stroke-width="1" fill="none"/>
<path d="M84.7 454.3L86.3 452.7L87.9 454.3L86.3 455.9Z" stroke="#ffffff" stroke-width="1" fill="none"/>
<path d="M84.7 468.2L86.3 466.6L87.9 468.2L86.3 469.8Z" stroke="#ffffff" stroke-width="1" fill="none"/>
<path d="M488.3 454.3L489.9 452.7L491.5 454.3L489.9 455.9Z" stroke="#ffffff" stroke-width="1" fill="none"/>
<path d="M488.3 468.2L489.9 466.6L491.5 468.2L489.9 469.8Z" stroke="#ffffff" stroke-width="1" fill="none"/>
<path d="M506.8 454.3L508.4 452.7L510 454.3L508.4 455.9Z" stroke="#ffffff" stroke-width="1" fill="none"/>
<path d="M506.8 468.2L508.4 466.6L510 468.2L508.4 469.8Z" stroke="#ffffff" stroke-width="1" fill="none"/>
<rect x="111" y="449" width="12" height="3.5" rx="1.7" stroke="#ffffff" stroke-width="1" fill="none"/>
<rect x="111" y="465" width="12" height="3.5" rx="1.7" stroke="#ffffff" stroke-width="1" fill="none"/>
<rect x="143.4" y="457.8" width="2.4" height="2.4" fill="#ffffff"/>
<rect x="184.1" y="457.8" width="2.4" height="2.4" fill="#ffffff"/>
<rect x="225.2" y="457.8" width="2.4" height="2.4" fill="#ffffff"/>
<rect x="266.3" y="457.8" width="2.4" height="2.4" fill="#ffffff"/>
<rect x="307.4" y="457.8" width="2.4" height="2.4" fill="#ffffff"/>
<rect x="348.5" y="457.8" width="2.4" height="2.4" fill="#ffffff"/>
<rect x="389.3" y="457.8" width="2.4" height="2.4" fill="#ffffff"/>
<rect x="430.4" y="457.8" width="2.4" height="2.4" fill="#ffffff"/>
<circle cx="194.1" cy="450.5" r="1.3" stroke="#ffffff" stroke-width="1" fill="none"/>
<circle cx="194.1" cy="467.4" r="1.3" stroke="#ffffff" stroke-width="1" fill="none"/>
<circle cx="382.1" cy="450.5" r="1.3" stroke="#ffffff" stroke-width="1" fill="none"/>
<circle cx="382.1" cy="467.4" r="1.3" stroke="#ffffff" stroke-width="1" fill="none"/>
<circle cx="288" cy="450.5" r="2.3" stroke="#ffffff" stroke-width="1" fill="none"/>
<circle cx="288" cy="467.4" r="2.3" stroke="#ffffff" stroke-width="1" fill="none"/>
<circle cx="458.6" cy="466.7" r="6.7" stroke="#ffffff" stroke-width="1" fill="none"/>
<circle cx="458.6" cy="451.3" r="1.5" stroke="#ffffff" stroke-width="1" fill="none"/>
<rect x="449.6" y="457.7" width="2" height="2" fill="#ffffff"/>
<rect x="449.6" y="473.7" width="2" height="2" fill="#ffffff"/>
<rect x="465.6" y="457.7" width="2" height="2" fill="#ffffff"/>
<rect x="465.6" y="473.7" width="2" height="2" fill="#ffffff"/>
<line x1="65.5" y1="427.5" x2="510.5" y2="427.5" stroke="#00ff00" stroke-width="1"/>
<polygon points="65.5,427.5 78.5,424.5 78.5,430.5" fill="#00ff00"/>
<polygon points="510.5,427.5 497.5,430.5 497.5,424.5" fill="#00ff00"/>
<line x1="65.5" y1="425.5" x2="65.5" y2="452" stroke="#00ff00" stroke-width="1"/>
<line x1="510.5" y1="425.5" x2="510.5" y2="452" stroke="#00ff00" stroke-width="1"/>
<text x="288" y="424.8" fill="#00ff00" font-size="20" text-anchor="middle"></text>
<text x="260.3" y="422.8" fill="#00ff00" font-size="20">1,<tspan dx="5">300</tspan></text>
<line x1="55.5" y1="438.5" x2="55.5" y2="484.5" stroke="#00ff00" stroke-width="1"/>
<polygon points="55.5,438.5 58.5,451.5 52.5,451.5" fill="#00ff00"/>
<polygon points="55.5,484.5 52.5,471.5 58.5,471.5" fill="#00ff00"/>
<line x1="54" y1="438.5" x2="94.5" y2="438.5" stroke="#00ff00" stroke-width="1"/>
<line x1="54" y1="484.5" x2="94.5" y2="484.5" stroke="#00ff00" stroke-width="1"/>
<text x="51.7" y="462.2" fill="#00ff00" font-size="20" text-anchor="middle" transform="rotate(-90 51.7 462.2)">135</text>
<rect x="524" y="445" width="3" height="36" stroke="#ff0000" stroke-width="0" fill="#ff0000"/>
<rect x="524" y="445" width="9" height="2" stroke="#ff0000" stroke-width="0" fill="#ff0000"/>
<rect x="524" y="479" width="9" height="2" stroke="#ff0000" stroke-width="0" fill="#ff0000"/>
<text x="273.6" y="511.8" fill="#ffffff" font-size="24" text-anchor="middle">1</text>
<text x="279.84" y="511.79" fill="#ffffff" font-size="23.92">件</text>
<path d="M597.5 448.2A5.5 5.7 0 0 1 608.5 448.2L610.5 478.7A10.8 11.2 0 0 0 632.1 478.7L633.4 448.2A5.3 5.7 0 0 1 644 448.2L646.6 478.7A10.4 11.2 0 0 0 667.4 478.7L669.5 448.2A5.25 5.7 0 0 1 680 448.2L683.8 488Q684.6 495.2 690.5 495.2H696.5Q701.8 495.2 702.6 488L705.7 448.2A4.95 5.7 0 0 1 715.6 448.2L718.5 478.7A10.15 11.2 0 0 0 738.8 478.7L741.4 448.2A5.05 5.7 0 0 1 751.5 448.2V504.5Q751.5 507.5 748.5 507.5H729.5Q723.5 507.5 723.5 513.5V550.5Q723.5 553.5 720.5 553.5H679.5C679.5 528 660 509 637 507.5H600.5Q597.5 507.5 597.5 504.5Z" stroke="#ffffff" stroke-width="1" fill="none"/>
<path d="M601.3 448.2L602.8 446.7L604.3 448.2L602.8 449.7Z" stroke="#ffffff" stroke-width="1" fill="none"/>
<path d="M637.1 448.2L638.6 446.7L640.1 448.2L638.6 449.7Z" stroke="#ffffff" stroke-width="1" fill="none"/>
<path d="M673.1 448.2L674.6 446.7L676.1 448.2L674.6 449.7Z" stroke="#ffffff" stroke-width="1" fill="none"/>
<path d="M708.8 448.2L710.3 446.7L711.8 448.2L710.3 449.7Z" stroke="#ffffff" stroke-width="1" fill="none"/>
<path d="M744.8 448.2L746.3 446.7L747.8 448.2L746.3 449.7Z" stroke="#ffffff" stroke-width="1" fill="none"/>
<path d="M668.4 470.1L669.9 468.6L671.4 470.1L669.9 471.6Z" stroke="#ffffff" stroke-width="1" fill="none"/>
<path d="M677.7 470.1L679.2 468.6L680.7 470.1L679.2 471.6Z" stroke="#ffffff" stroke-width="1" fill="none"/>
<path d="M708.8 480L710.3 478.5L711.8 480L710.3 481.5Z" stroke="#ffffff" stroke-width="1" fill="none"/>
<path d="M708.9 513.8L710.4 512.3L711.9 513.8L710.4 515.3Z" stroke="#ffffff" stroke-width="1" fill="none"/>
<circle cx="669.7" cy="496.4" r="2" stroke="#ffffff" stroke-width="1" fill="none"/>
<circle cx="718.5" cy="496.4" r="2" stroke="#ffffff" stroke-width="1" fill="none"/>
<circle cx="718.5" cy="548" r="2" stroke="#ffffff" stroke-width="1" fill="none"/>
<rect x="682.5" y="501" width="2.4" height="2.4" stroke="#ffffff" stroke-width="1" fill="none"/>
<rect x="700.1" y="501" width="2.4" height="2.4" stroke="#ffffff" stroke-width="1" fill="none"/>
<rect x="682.5" y="515.2" width="2.4" height="2.4" stroke="#ffffff" stroke-width="1" fill="none"/>
<rect x="700.1" y="515.2" width="2.4" height="2.4" stroke="#ffffff" stroke-width="1" fill="none"/>
<rect x="682.5" y="531.8" width="2.4" height="2.4" stroke="#ffffff" stroke-width="1" fill="none"/>
<rect x="700.1" y="531.8" width="2.4" height="2.4" stroke="#ffffff" stroke-width="1" fill="none"/>
<rect x="682.5" y="545.5" width="2.4" height="3.4" rx="1" stroke="#ffffff" stroke-width="1" fill="none"/>
<rect x="700.1" y="545.5" width="2.4" height="3.4" rx="1" stroke="#ffffff" stroke-width="1" fill="none"/>
<rect x="709.2" y="546.8" width="2.4" height="2.4" stroke="#ffffff" stroke-width="1" fill="none"/>
<line x1="597.5" y1="428.5" x2="751.5" y2="428.5" stroke="#00ff00" stroke-width="1"/>
<polygon points="597.5,428.5 610.5,425.5 610.5,431.5" fill="#00ff00"/>
<polygon points="751.5,428.5 738.5,431.5 738.5,425.5" fill="#00ff00"/>
<line x1="597.5" y1="426" x2="597.5" y2="450" stroke="#00ff00" stroke-width="1"/>
<line x1="751.5" y1="426" x2="751.5" y2="457" stroke="#00ff00" stroke-width="1"/>
<text x="673.8" y="425.8" fill="#00ff00" font-size="20" text-anchor="middle">450</text>
<line x1="589.5" y1="442.5" x2="589.5" y2="553.5" stroke="#00ff00" stroke-width="1"/>
<polygon points="589.5,442.5 592.5,455.5 586.5,455.5" fill="#00ff00"/>
<polygon points="589.5,553.5 586.5,540.5 592.5,540.5" fill="#00ff00"/>
<line x1="588" y1="442.5" x2="603" y2="442.5" stroke="#00ff00" stroke-width="1"/>
<line x1="588" y1="553.5" x2="684.5" y2="553.5" stroke="#00ff00" stroke-width="1"/>
<text x="585.7" y="498.7" fill="#00ff00" font-size="20" text-anchor="middle" transform="rotate(-90 585.7 498.7)">323</text>
<text x="663.8" y="582.9" fill="#ffffff" font-size="24" text-anchor="middle">4</text>
<text x="670.04" y="582.89" fill="#ffffff" font-size="23.92">件</text>
<path d="M74.5 560.5H481.5Q484.5 560.5 484.5 563.5V571.5H489.5V646.5Q489.5 648.5 487.5 648.5H484.5V669.5Q484.5 672.5 481.5 672.5H74.5Q71.5 672.5 71.5 669.5V648.5H68.5Q66.5 648.5 66.5 646.5V571.5H71.5V563.5Q71.5 560.5 74.5 560.5Z" stroke="#ffffff" stroke-width="1" fill="none"/>
<line x1="72" y1="570.5" x2="484" y2="570.5" stroke="#ff0000" stroke-width="1" stroke-dasharray="13.4 2 2.9 1.9"/>
<line x1="72" y1="662.5" x2="484" y2="662.5" stroke="#ff0000" stroke-width="1" stroke-dasharray="13.4 2 2.9 1.9"/>
<path d="M82.5 594.5H224.5Q227.5 594.5 227.5 597.5V622.5Q227.5 625.5 224.5 625.5H152Q149.5 625.5 148.5 628.5Q147 633.5 144 633.5H82.5Q79.5 633.5 79.5 630.5V597.5Q79.5 594.5 82.5 594.5Z" stroke="#ffffff" stroke-width="1" fill="none"/>
<path d="M331.5 594.5H403.5Q406.5 594.5 407.5 591Q408.5 585.5 412 585.5H474.5Q477.5 585.5 477.5 588.5V622.5Q477.5 625.5 474.5 625.5H331.5Q328.5 625.5 328.5 622.5V597.5Q328.5 594.5 331.5 594.5Z" stroke="#ffffff" stroke-width="1" fill="none"/>
<rect x="97.4" y="561.3" width="2.2" height="2.2" stroke="#ffffff" stroke-width="1" fill="none"/>
<rect x="97.4" y="571.9" width="2.2" height="2.2" stroke="#ffffff" stroke-width="1" fill="none"/>
<rect x="97.4" y="656.1" width="2.2" height="2.2" stroke="#ffffff" stroke-width="1" fill="none"/>
<rect x="97.4" y="669.3" width="2.2" height="2.2" stroke="#ffffff" stroke-width="1" fill="none"/>
<rect x="148.3" y="561.3" width="2.2" height="2.2" stroke="#ffffff" stroke-width="1" fill="none"/>
<rect x="148.3" y="571.9" width="2.2" height="2.2" stroke="#ffffff" stroke-width="1" fill="none"/>
<rect x="148.3" y="656.1" width="2.2" height="2.2" stroke="#ffffff" stroke-width="1" fill="none"/>
<rect x="148.3" y="669.3" width="2.2" height="2.2" stroke="#ffffff" stroke-width="1" fill="none"/>
<path d="M199.5 562.4L200.9 561L202.3 562.4L200.9 563.8Z" stroke="#ffffff" stroke-width="1" fill="none"/>
<path d="M199.5 573L200.9 571.6L202.3 573L200.9 574.4Z" stroke="#ffffff" stroke-width="1" fill="none"/>
<path d="M199.5 657.2L200.9 655.8L202.3 657.2L200.9 658.6Z" stroke="#ffffff" stroke-width="1" fill="none"/>
<path d="M199.5 670.4L200.9 669L202.3 670.4L200.9 671.8Z" stroke="#ffffff" stroke-width="1" fill="none"/>
<rect x="251.4" y="561.3" width="2.2" height="2.2" stroke="#ffffff" stroke-width="1" fill="none"/>
<rect x="251.4" y="571.9" width="2.2" height="2.2" stroke="#ffffff" stroke-width="1" fill="none"/>
<rect x="251.4" y="656.1" width="2.2" height="2.2" stroke="#ffffff" stroke-width="1" fill="none"/>
<rect x="251.4" y="669.3" width="2.2" height="2.2" stroke="#ffffff" stroke-width="1" fill="none"/>
<rect x="302" y="561.3" width="2.2" height="2.2" stroke="#ffffff" stroke-width="1" fill="none"/>
<rect x="302" y="571.9" width="2.2" height="2.2" stroke="#ffffff" stroke-width="1" fill="none"/>
<rect x="302" y="656.1" width="2.2" height="2.2" stroke="#ffffff" stroke-width="1" fill="none"/>
<rect x="302" y="669.3" width="2.2" height="2.2" stroke="#ffffff" stroke-width="1" fill="none"/>
<path d="M353.6 562.4L355 561L356.4 562.4L355 563.8Z" stroke="#ffffff" stroke-width="1" fill="none"/>
<path d="M353.6 573L355 571.6L356.4 573L355 574.4Z" stroke="#ffffff" stroke-width="1" fill="none"/>
<path d="M353.6 657.2L355 655.8L356.4 657.2L355 658.6Z" stroke="#ffffff" stroke-width="1" fill="none"/>
<path d="M353.6 670.4L355 669L356.4 670.4L355 671.8Z" stroke="#ffffff" stroke-width="1" fill="none"/>
<rect x="404.8" y="561.3" width="2.2" height="2.2" stroke="#ffffff" stroke-width="1" fill="none"/>
<rect x="404.8" y="571.9" width="2.2" height="2.2" stroke="#ffffff" stroke-width="1" fill="none"/>
<rect x="404.8" y="656.1" width="2.2" height="2.2" stroke="#ffffff" stroke-width="1" fill="none"/>
<rect x="404.8" y="669.3" width="2.2" height="2.2" stroke="#ffffff" stroke-width="1" fill="none"/>
<rect x="456.3" y="561.3" width="2.2" height="2.2" stroke="#ffffff" stroke-width="1" fill="none"/>
<rect x="456.3" y="571.9" width="2.2" height="2.2" stroke="#ffffff" stroke-width="1" fill="none"/>
<rect x="456.3" y="656.1" width="2.2" height="2.2" stroke="#ffffff" stroke-width="1" fill="none"/>
<rect x="456.3" y="669.3" width="2.2" height="2.2" stroke="#ffffff" stroke-width="1" fill="none"/>
<path d="M79.4 583.4L81.3 581.5L83.2 583.4L81.3 585.3Z" stroke="#ffffff" stroke-width="1" fill="none"/>
<path d="M100 583.4L101.9 581.5L103.8 583.4L101.9 585.3Z" stroke="#ffffff" stroke-width="1" fill="none"/>
<path d="M120.2 583.4L122.1 581.5L124 583.4L122.1 585.3Z" stroke="#ffffff" stroke-width="1" fill="none"/>
<path d="M141.1 583.4L143 581.5L144.9 583.4L143 585.3Z" stroke="#ffffff" stroke-width="1" fill="none"/>
<path d="M161.3 583.4L163.2 581.5L165.1 583.4L163.2 585.3Z" stroke="#ffffff" stroke-width="1" fill="none"/>
<path d="M182.2 583.4L184.1 581.5L186 583.4L184.1 585.3Z" stroke="#ffffff" stroke-width="1" fill="none"/>
<path d="M202.7 583.4L204.6 581.5L206.5 583.4L204.6 585.3Z" stroke="#ffffff" stroke-width="1" fill="none"/>
<path d="M349.4 635.7L351.3 633.8L353.2 635.7L351.3 637.6Z" stroke="#ffffff" stroke-width="1" fill="none"/>
<path d="M370 635.7L371.9 633.8L373.8 635.7L371.9 637.6Z" stroke="#ffffff" stroke-width="1" fill="none"/>
<path d="M390.5 635.7L392.4 633.8L394.3 635.7L392.4 637.6Z" stroke="#ffffff" stroke-width="1" fill="none"/>
<path d="M411.1 635.7L413 633.8L414.9 635.7L413 637.6Z" stroke="#ffffff" stroke-width="1" fill="none"/>
<path d="M431.6 635.7L433.5 633.8L435.4 635.7L433.5 637.6Z" stroke="#ffffff" stroke-width="1" fill="none"/>
<path d="M452.2 635.7L454.1 633.8L456 635.7L454.1 637.6Z" stroke="#ffffff" stroke-width="1" fill="none"/>
<path d="M472.7 635.7L474.6 633.8L476.5 635.7L474.6 637.6Z" stroke="#ffffff" stroke-width="1" fill="none"/>
<rect x="74.5" y="588.1" width="2.2" height="2.2" stroke="#ffffff" stroke-width="1" fill="none"/>
<rect x="479.6" y="588.1" width="2.2" height="2.2" stroke="#ffffff" stroke-width="1" fill="none"/>
<rect x="74.5" y="601.6" width="2.2" height="2.2" stroke="#ffffff" stroke-width="1" fill="none"/>
<rect x="479.6" y="601.6" width="2.2" height="2.2" stroke="#ffffff" stroke-width="1" fill="none"/>
<rect x="74.5" y="615.4" width="2.2" height="2.2" stroke="#ffffff" stroke-width="1" fill="none"/>
<rect x="479.6" y="615.4" width="2.2" height="2.2" stroke="#ffffff" stroke-width="1" fill="none"/>
<rect x="74.5" y="628.9" width="2.2" height="2.2" stroke="#ffffff" stroke-width="1" fill="none"/>
<rect x="479.6" y="628.9" width="2.2" height="2.2" stroke="#ffffff" stroke-width="1" fill="none"/>
<rect x="154.9" y="629.4" width="1.8" height="1.8" fill="#ffffff"/>
<rect x="165" y="629.4" width="1.8" height="1.8" fill="#ffffff"/>
<rect x="154.9" y="639.5" width="1.8" height="1.8" fill="#ffffff"/>
<rect x="165" y="639.5" width="1.8" height="1.8" fill="#ffffff"/>
<rect x="388.8" y="577.5" width="1.8" height="1.8" fill="#ffffff"/>
<rect x="398.9" y="577.5" width="1.8" height="1.8" fill="#ffffff"/>
<rect x="388.8" y="587.6" width="1.8" height="1.8" fill="#ffffff"/>
<rect x="398.9" y="587.6" width="1.8" height="1.8" fill="#ffffff"/>
<rect x="169.6" y="564" width="2" height="2" fill="#ffffff"/>
<rect x="384.7" y="564" width="2" height="2" fill="#ffffff"/>
<rect x="165.5" y="666.5" width="9" height="1.5" stroke="#ffffff" stroke-width="0" fill="#ffffff"/>
<rect x="380.5" y="666.5" width="9" height="1.5" stroke="#ffffff" stroke-width="0" fill="#ffffff"/>
<rect x="273.8" y="598.4" width="2.4" height="2.4" stroke="#ffffff" stroke-width="1" fill="none"/>
<rect x="280.5" y="598.4" width="2.4" height="2.4" stroke="#ffffff" stroke-width="1" fill="none"/>
<rect x="273.8" y="604.8" width="2.4" height="2.4" stroke="#ffffff" stroke-width="1" fill="none"/>
<rect x="280.5" y="604.8" width="2.4" height="2.4" stroke="#ffffff" stroke-width="1" fill="none"/>
<rect x="273.8" y="611.2" width="2.4" height="2.4" stroke="#ffffff" stroke-width="1" fill="none"/>
<rect x="280.5" y="611.2" width="2.4" height="2.4" stroke="#ffffff" stroke-width="1" fill="none"/>
<rect x="273.8" y="617.6" width="2.4" height="2.4" stroke="#ffffff" stroke-width="1" fill="none"/>
<rect x="280.5" y="617.6" width="2.4" height="2.4" stroke="#ffffff" stroke-width="1" fill="none"/>
<line x1="66.5" y1="543.5" x2="489.5" y2="543.5" stroke="#00ff00" stroke-width="1"/>
<polygon points="66.5,543.5 79.5,540.5 79.5,546.5" fill="#00ff00"/>
<polygon points="489.5,543.5 476.5,546.5 476.5,540.5" fill="#00ff00"/>
<line x1="66.5" y1="541" x2="66.5" y2="582" stroke="#00ff00" stroke-width="1"/>
<line x1="489.5" y1="541" x2="489.5" y2="582" stroke="#00ff00" stroke-width="1"/>
<text x="278" y="540.8" fill="#00ff00" font-size="20" text-anchor="middle"></text>
<text x="250.2" y="538.8" fill="#00ff00" font-size="20">1,<tspan dx="5">237</tspan></text>
<line x1="49.5" y1="560.5" x2="49.5" y2="672.5" stroke="#00ff00" stroke-width="1"/>
<polygon points="49.5,560.5 52.5,573.5 46.5,573.5" fill="#00ff00"/>
<polygon points="49.5,672.5 46.5,659.5 52.5,659.5" fill="#00ff00"/>
<line x1="48" y1="560.5" x2="80" y2="560.5" stroke="#00ff00" stroke-width="1"/>
<line x1="48" y1="672.5" x2="80" y2="672.5" stroke="#00ff00" stroke-width="1"/>
<text x="45.7" y="617.2" fill="#00ff00" font-size="20" text-anchor="middle" transform="rotate(-90 45.7 617.2)">330</text>
<line x1="503.5" y1="571" x2="503.5" y2="667" stroke="#ff0000" stroke-width="1"/>
<line x1="505.5" y1="571" x2="505.5" y2="667" stroke="#ff0000" stroke-width="1"/>
<rect x="503" y="571" width="13" height="2" stroke="#ff0000" stroke-width="0" fill="#ff0000"/>
<rect x="503.5" y="664.5" width="12" height="2" stroke="#ff0000" stroke-width="1" fill="none"/>
<text x="259.6" y="700.9" fill="#ffffff" font-size="24" text-anchor="middle">1</text>
<text x="265.84" y="700.89" fill="#ffffff" font-size="23.92">件</text>
<path d="M561.5 589.5H576.5Q579.5 589.5 579.5 592.5V658.5Q579.5 661.5 576.5 661.5H561.5Z" stroke="#ffffff" stroke-width="1" fill="none"/>
<line x1="561.5" y1="650.5" x2="579.5" y2="650.5" stroke="#ff0000" stroke-width="1"/>
<rect x="564.2" y="608.6" width="2" height="2" fill="#ffffff"/>
<rect x="573.8" y="608.6" width="2" height="2" fill="#ffffff"/>
<path d="M563.8 655.6L565.2 654.2L566.6 655.6L565.2 657Z" stroke="#ffffff" stroke-width="1" fill="none"/>
<path d="M573.8 655.6L575.2 654.2L576.6 655.6L575.2 657Z" stroke="#ffffff" stroke-width="1" fill="none"/>
<line x1="534" y1="580.5" x2="606" y2="580.5" stroke="#00ff00" stroke-width="1"/>
<polygon points="561.5,580.5 548.5,583.5 548.5,577.5" fill="#00ff00"/>
<polygon points="579.5,580.5 592.5,577.5 592.5,583.5" fill="#00ff00"/>
<line x1="561.5" y1="578.5" x2="561.5" y2="597.5" stroke="#00ff00" stroke-width="1"/>
<line x1="579.5" y1="578.5" x2="579.5" y2="597.5" stroke="#00ff00" stroke-width="1"/>
<text x="569.6" y="577.8" fill="#00ff00" font-size="20" text-anchor="middle">52</text>
<line x1="551.5" y1="589.5" x2="551.5" y2="661.5" stroke="#00ff00" stroke-width="1"/>
<polygon points="551.5,589.5 554.5,602.5 548.5,602.5" fill="#00ff00"/>
<polygon points="551.5,661.5 548.5,648.5 554.5,648.5" fill="#00ff00"/>
<line x1="550" y1="589.5" x2="565" y2="589.5" stroke="#00ff00" stroke-width="1"/>
<line x1="550" y1="661.5" x2="565" y2="661.5" stroke="#00ff00" stroke-width="1"/>
<text x="547.7" y="626.2" fill="#00ff00" font-size="20" text-anchor="middle" transform="rotate(-90 547.7 626.2)">209</text>
<path d="M608.5 598V654.5H623" stroke="#ff0000" stroke-width="1" fill="none"/>
<text x="559.6" y="690.9" fill="#ffffff" font-size="24" text-anchor="middle">8</text>
<text x="565.84" y="690.89" fill="#ffffff" font-size="23.92">件</text>
<path d="M663.5 625.5H678.5Q681.5 625.5 681.5 628.5V692.5Q681.5 695.5 678.5 695.5H663.5Z" stroke="#ffffff" stroke-width="1" fill="none"/>
<rect x="666" y="628" width="3.4" height="2.4" rx="1.2" stroke="#ffffff" stroke-width="1" fill="none"/>
<rect x="676" y="628" width="3.4" height="2.4" rx="1.2" stroke="#ffffff" stroke-width="1" fill="none"/>
<path d="M666.3 675.7L667.6 674.4L668.9 675.7L667.6 677Z" stroke="#ffffff" stroke-width="1" fill="none"/>
<path d="M676.3 675.7L677.6 674.4L678.9 675.7L677.6 677Z" stroke="#ffffff" stroke-width="1" fill="none"/>
<line x1="637" y1="612.5" x2="708" y2="612.5" stroke="#00ff00" stroke-width="1"/>
<polygon points="663.5,612.5 650.5,615.5 650.5,609.5" fill="#00ff00"/>
<polygon points="681.5,612.5 694.5,609.5 694.5,615.5" fill="#00ff00"/>
<line x1="663.5" y1="610" x2="663.5" y2="632.5" stroke="#00ff00" stroke-width="1"/>
<line x1="681.5" y1="610" x2="681.5" y2="632.5" stroke="#00ff00" stroke-width="1"/>
<text x="672.5" y="609.8" fill="#00ff00" font-size="20" text-anchor="middle">52</text>
<line x1="654.5" y1="625.5" x2="654.5" y2="695.5" stroke="#00ff00" stroke-width="1"/>
<polygon points="654.5,625.5 657.5,638.5 651.5,638.5" fill="#00ff00"/>
<polygon points="654.5,695.5 651.5,682.5 657.5,682.5" fill="#00ff00"/>
<line x1="653" y1="625.5" x2="669" y2="625.5" stroke="#00ff00" stroke-width="1"/>
<line x1="653" y1="695.5" x2="669" y2="695.5" stroke="#00ff00" stroke-width="1"/>
<text x="650.7" y="661.2" fill="#00ff00" font-size="20" text-anchor="middle" transform="rotate(-90 650.7 661.2)">205</text>
<text x="658.7" y="727.9" fill="#ffffff" font-size="24" text-anchor="middle">8</text>
<text x="664.94" y="727.89" fill="#ffffff" font-size="23.92">件</text>
<rect x="735.5" y="607.5" width="18" height="61" stroke="#ffffff" stroke-width="1" fill="none"/>
<rect x="737.5" y="611.5" width="4" height="2.2" rx="1" stroke="#ffffff" stroke-width="1" fill="none"/>
<rect x="747.5" y="611.5" width="4" height="2.2" rx="1" stroke="#ffffff" stroke-width="1" fill="none"/>
<rect x="738.4" y="646.5" width="2" height="2" fill="#ffffff"/>
<rect x="748.6" y="646.5" width="2" height="2" fill="#ffffff"/>
<line x1="708" y1="594.5" x2="781" y2="594.5" stroke="#00ff00" stroke-width="1"/>
<polygon points="735.5,594.5 722.5,597.5 722.5,591.5" fill="#00ff00"/>
<polygon points="753.5,594.5 766.5,591.5 766.5,597.5" fill="#00ff00"/>
<line x1="735.5" y1="592.5" x2="735.5" y2="617" stroke="#00ff00" stroke-width="1"/>
<line x1="753.5" y1="592.5" x2="753.5" y2="617" stroke="#00ff00" stroke-width="1"/>
<text x="744" y="591.8" fill="#00ff00" font-size="20" text-anchor="middle">55</text>
<line x1="727.5" y1="607.5" x2="727.5" y2="668.5" stroke="#00ff00" stroke-width="1"/>
<polygon points="727.5,607.5 730.5,620.5 724.5,620.5" fill="#00ff00"/>
<polygon points="727.5,668.5 724.5,655.5 730.5,655.5" fill="#00ff00"/>
<line x1="726" y1="607.5" x2="741" y2="607.5" stroke="#00ff00" stroke-width="1"/>
<line x1="726" y1="668.5" x2="741" y2="668.5" stroke="#00ff00" stroke-width="1"/>
<text x="723.7" y="638.7" fill="#00ff00" font-size="20" text-anchor="middle" transform="rotate(-90 723.7 638.7)">180</text>
<text x="730.7" y="701.8" fill="#ffffff" font-size="24" text-anchor="middle">8</text>
<text x="736.94" y="701.79" fill="#ffffff" font-size="23.92">件</text>
</svg>
</body></html>
